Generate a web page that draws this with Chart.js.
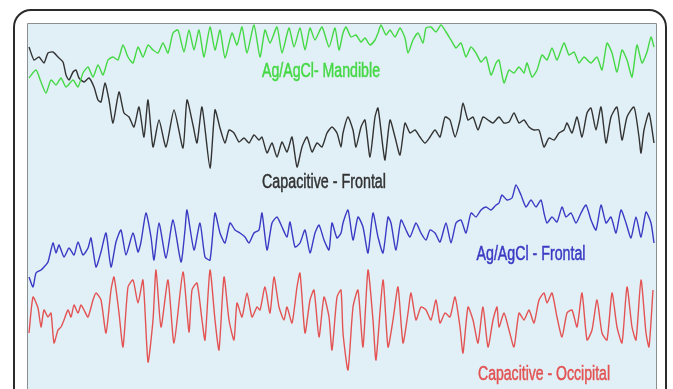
<!DOCTYPE html>
<html>
<head>
<meta charset="utf-8">
<script src="https://cdn.jsdelivr.net/npm/chart.js@4/dist/chart.umd.min.js"></script>
<style>
  html, body { margin: 0; padding: 0; background: #fff; }
  #wrap { width: 673px; height: 389px; position: relative; }
</style>
</head>
<body>
<div id="wrap"><canvas id="eeg"></canvas></div>
<script>
// sample index (t) and stacked amplitude (v) for each recording
const mandibleT = [1,8,13,18,23,28,33,38,45,50,55,60,65,70,75,80,85,90,95,100,105,110,115,120,125,130,135,140,145,150,
  156,161,166,171,176,182,187,192,197,204,209,214,219,226,232,237,242,249,254,261,266,272,277,282,287,294,301,307,
  311,315,318,323,328,333,337,342,347,350,353,358,362,367,372,377,380,385,390,395,398,403,408,413,418,423,428,433,438,443,448,453,458,463,468,
  471,476,481,486,491,496,499,504,509,514,519,524,529,536,541,546,551,556,563,569,574,579,584,589,594,599,604,609,614,619,623,626];
const mandibleV = [322,330,318,307,320,315,322,313,320,313,327,333,323,335,325,340,343,340,355,343,337,353,343,355,350,347,357,347,367,370,
  348,370,350,370,343,373,350,370,342,367,355,373,347,375,343,370,357,373,347,372,353,372,350,372,360,373,353,372,
  350,367,373,363,365,358,362,355,360,367,375,365,370,363,372,362,347,360,367,357,372,373,368,375,368,360,352,357,343,353,347,338,343,325,337,
  340,317,330,327,333,327,337,323,330,345,340,352,340,357,345,348,337,343,337,343,330,357,347,328,350,340,323,355,337,348,363,353];

const capFrontalT = [1,6,11,16,20,25,30,35,38,41,45,48,51,56,61,66,70,73,77,81,85,91,96,101,106,111,116,120,125,131,138,146,155,
  159,165,169,174,182,187,192,197,201,206,211,216,221,226,231,234,239,244,249,254,259,264,269,274,279,284,289,294,299,304,309,313,
  315,320,325,328,333,337,342,347,350,355,357,362,367,372,377,382,387,392,397,402,407,412,417,422,427,432,435,440,445,450,455,460,465,
  471,476,481,486,491,496,501,506,511,516,521,526,531,536,539,544,549,554,559,563,568,573,578,583,589,594,599,606,611,613,616,621,626];
const capFrontalV = [353,340,343,337,347,348,343,338,325,320,328,330,322,318,322,313,300,298,317,300,277,308,287,283,273,293,263,300,253,280,253,290,252,
  300,275,257,293,232,290,272,257,270,267,258,262,257,265,260,263,247,257,243,258,248,263,233,253,263,248,257,253,267,273,267,253,
  267,283,270,253,273,280,243,283,292,252,240,280,263,245,277,267,270,263,257,263,270,263,283,280,263,280,297,280,283,270,283,280,277,
  283,277,278,287,277,280,273,270,270,253,262,260,267,270,277,267,283,263,287,292,270,293,257,283,293,260,283,293,263,247,270,287,257];

const agFrontalT = [1,5,8,13,16,20,25,28,31,36,41,46,50,55,60,63,68,73,78,83,88,93,98,105,110,113,118,123,126,131,138,145,153,157,
  159,166,172,177,182,187,192,197,202,207,212,217,221,226,231,234,239,244,249,254,259,262,267,272,277,282,287,291,296,301,304,309,313,
  315,320,325,330,335,340,345,350,355,360,363,368,373,378,382,388,393,398,402,407,412,418,423,428,433,438,443,448,453,458,463,468,
  471,474,479,484,488,493,498,503,508,513,516,519,524,529,534,538,543,548,553,558,563,568,573,578,583,588,593,598,603,608,613,618,623,626];
const agFrontalV = [123,113,127,130,133,138,157,147,155,143,152,145,158,145,152,162,133,148,167,133,158,170,145,167,148,158,187,163,140,177,142,180,138,170,
  190,150,177,143,140,187,167,157,177,170,167,163,157,167,170,187,150,177,183,173,163,178,153,157,170,147,167,175,160,150,177,162,167,
  177,190,160,183,173,147,187,163,147,183,177,150,180,170,163,177,167,160,170,167,158,177,157,177,180,167,187,183,190,193,190,195,
  197,205,200,202,215,205,193,200,193,200,187,177,183,178,193,183,187,177,187,195,180,170,195,177,183,167,190,177,162,183,163,188,177,157];

const occipitalT = [1,5,10,13,16,20,23,26,30,33,36,40,43,46,50,53,56,60,65,68,73,78,83,86,91,95,100,105,110,115,120,125,128,133,140,146,155,161,
  164,169,174,177,182,187,191,196,201,206,209,214,219,224,229,232,237,242,246,251,256,259,264,269,272,277,282,286,291,296,301,304,309,313,
  315,320,325,330,335,340,345,348,355,360,365,370,375,380,383,388,393,398,403,408,412,417,422,427,432,435,440,445,450,455,460,465,469,
  471,476,481,486,491,496,501,506,511,516,519,524,529,534,539,544,549,554,559,564,569,574,579,584,589,594,599,604,608,613,618,621,625];
const occipitalV = [67,103,92,73,90,83,87,57,70,73,80,90,83,95,87,95,90,83,100,107,100,67,110,123,87,53,113,120,97,120,38,80,130,73,120,57,128,68,
  110,117,80,60,130,80,50,123,80,60,97,83,107,83,93,90,113,87,123,93,80,93,77,113,127,67,100,110,63,103,83,50,103,110,
  67,30,93,110,53,130,80,40,120,53,80,113,57,87,107,80,93,90,80,100,77,87,83,103,73,47,93,80,57,93,53,80,93,
  73,87,70,53,87,80,90,77,100,107,97,107,83,63,87,90,73,107,60,70,100,67,60,107,73,57,113,73,60,120,67,53,110];

const traceNames = ['Ag/AgCl- Mandible', 'Capacitive - Frontal', 'Ag/AgCl - Frontal', 'Capacitive - Occipital'];
const traceColors = ['#45d845', '#333333', '#3a3ac4', '#e35353'];
// label anchor (sample index, stacked amplitude) per trace
const labelT = [293, 296, 503, 516];
const labelV = [329, 218, 146, 26];
const labelWidth = [118, 124, 109, 132];

function pairs(ts, vs) {
  return ts.map((t, i) => ({ x: t, y: vs[i] }));
}

const series = [
  pairs(mandibleT, mandibleV),
  pairs(capFrontalT, capFrontalV),
  pairs(agFrontalT, agFrontalV),
  pairs(occipitalT, occipitalV)
];

const panelPlugin = {
  id: 'panel',
  beforeDraw(chart) {
    const c = chart.ctx;
    const a = chart.chartArea;
    c.save();
    c.fillStyle = '#ffffff';
    c.fillRect(0, 0, chart.width, chart.height);
    // outer rounded frame
    const fl = a.left - 14, ft = a.top - 14, fr = a.right + 10, fb = chart.height + 30, r = 17;
    c.beginPath();
    c.moveTo(fl, fb);
    c.lineTo(fl, ft + r);
    c.arcTo(fl, ft, fl + r, ft, r);
    c.lineTo(fr - r, ft);
    c.arcTo(fr, ft, fr, ft + r, r);
    c.lineTo(fr, fb);
    c.lineWidth = 2;
    c.strokeStyle = '#2b2b2b';
    c.stroke();
    // inner panel
    c.fillStyle = '#e1f0f6';
    c.fillRect(a.left, a.top, a.right - a.left, a.bottom - a.top + 2);
    c.beginPath();
    c.moveTo(a.left - 0.5, chart.height + 2);
    c.lineTo(a.left - 0.5, a.top - 0.5);
    c.lineTo(a.right + 0.5, a.top - 0.5);
    c.lineTo(a.right + 0.5, chart.height + 2);
    c.lineWidth = 1;
    c.strokeStyle = '#8a8f92';
    c.stroke();
    c.restore();
  }
};

const labelPlugin = {
  id: 'traceLabels',
  afterDatasetsDraw(chart) {
    const c = chart.ctx;
    const xs = chart.scales.x, ys = chart.scales.y;
    c.save();
    c.font = '20px "Liberation Sans", Arial, sans-serif';
    c.textAlign = 'center';
    c.textBaseline = 'middle';
    traceNames.forEach((name, i) => {
      const px = xs.getPixelForValue(labelT[i]);
      const py = ys.getPixelForValue(labelV[i]);
      const w = c.measureText(name).width;
      const k = labelWidth[i] / w;
      c.save();
      c.translate(px, py);
      c.scale(k, 1);
      c.fillStyle = traceColors[i];
      c.strokeStyle = traceColors[i];
      c.lineWidth = 0.5;
      c.fillText(name, 0, 0);
      c.strokeText(name, 0, 0);
      c.restore();
    });
    c.restore();
  }
};

new Chart(document.getElementById('eeg'), {
  type: 'line',
  data: {
    datasets: series.map((pts, i) => ({
      label: traceNames[i],
      data: pts,
      borderColor: traceColors[i],
      borderWidth: 1.4,
      pointRadius: 0,
      tension: 0.2,
      fill: false
    }))
  },
  options: {
    responsive: true,
    maintainAspectRatio: false,
    animation: false,
    layout: { padding: { left: 28, right: 17, top: 24, bottom: 0 } },
    scales: {
      x: { type: 'linear', min: 0, max: 628, display: false },
      y: { type: 'linear', min: 11, max: 376, display: false }
    },
    plugins: {
      legend: { display: false },
      tooltip: { enabled: false }
    }
  },
  plugins: [panelPlugin, labelPlugin]
});
</script>
</body>
</html>
